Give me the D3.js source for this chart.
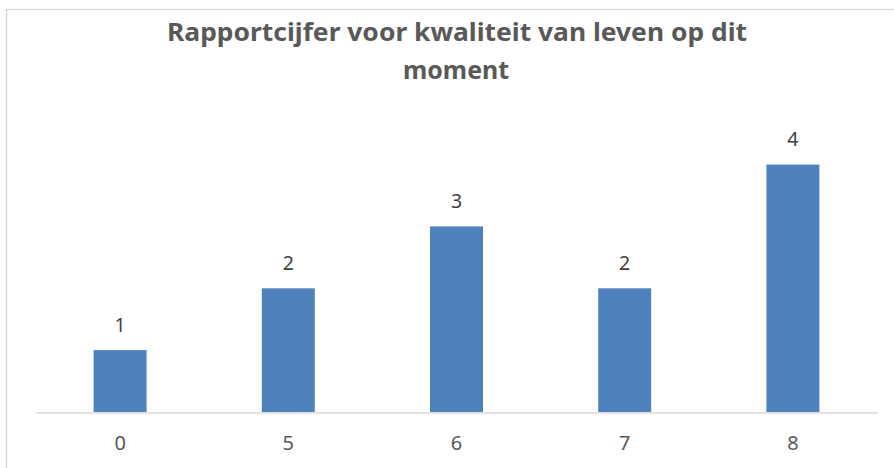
<!DOCTYPE html>
<html>
<head>
<meta charset="utf-8">
<script src="https://cdn.jsdelivr.net/npm/d3@7"></script>
<style>
  body { margin: 0; background: #fff; }
  svg { display: block; }
</style>
</head>
<body>
<script>
// chart data
const categories = ["0", "5", "6", "7", "8"];
const counts = [1, 2, 3, 2, 4];
const titleLines = ["Rapportcijfer voor kwaliteit van leven op dit", "moment"];

const width = 894, height = 468;

const svg = d3.select("body")
    .append("svg")
    .attr("width", width)
    .attr("height", height);

svg.append("rect")
    .attr("width", width)
    .attr("height", height)
    .attr("fill", "#fff");

// chart frame (cropped on the right and bottom)
svg.append("rect")
    .attr("x", 6.5)
    .attr("y", 9.5)
    .attr("width", 1000)
    .attr("height", 1000)
    .attr("fill", "none")
    .attr("stroke", "#d9d9d9")
    .attr("stroke-width", 1.5);

// scales
const x = d3.scaleBand()
    .domain(categories)
    .range([36, 877])
    .paddingInner(0.685)
    .paddingOuter(0.3425);

const y = d3.scaleLinear()
    .domain([0, 5])
    .range([412, 102.75]);

// title
const title = svg.append("g")
    .attr("font-family", "'Noto Sans', 'Open Sans', sans-serif")
    .attr("font-weight", "bold")
    .attr("font-size", 25.5)
    .attr("fill", "#595959")
    .attr("text-anchor", "middle");

title.append("text")
    .attr("x", 457)
    .attr("y", 41)
    .attr("textLength", 580)
    .attr("lengthAdjust", "spacingAndGlyphs")
    .text(titleLines[0]);

title.append("text")
    .attr("x", 456)
    .attr("y", 79)
    .attr("textLength", 106)
    .attr("lengthAdjust", "spacingAndGlyphs")
    .text(titleLines[1]);

// bars
svg.selectAll(".bar")
    .data(counts)
    .enter()
    .append("rect")
    .attr("class", "bar")
    .attr("x", (d, i) => x(categories[i]))
    .attr("y", d => y(d))
    .attr("width", x.bandwidth())
    .attr("height", d => y(0) - y(d))
    .attr("fill", "#4f81bd");

// data labels
svg.selectAll(".label")
    .data(counts)
    .enter()
    .append("text")
    .attr("class", "label")
    .attr("x", (d, i) => x(categories[i]) + x.bandwidth() / 2)
    .attr("y", d => y(d) - 18.5)
    .attr("text-anchor", "middle")
    .attr("font-family", "'Noto Sans', 'Open Sans', sans-serif")
    .attr("font-size", 19.5)
    .attr("fill", "#404040")
    .text(d => d);

// x axis
const xAxis = svg.append("g")
    .attr("transform", "translate(0," + 412.5 + ")")
    .call(d3.axisBottom(x).tickSize(0).tickPadding(0).tickSizeOuter(0));

xAxis.select(".domain")
    .attr("stroke", "#d9d9d9")
    .attr("stroke-width", 1.5);

xAxis.selectAll(".tick text")
    .attr("y", 37.5)
    .attr("dy", null)
    .attr("font-family", "'Noto Sans', 'Open Sans', sans-serif")
    .attr("font-size", 20)
    .attr("fill", "#595959");
</script>
</body>
</html>
